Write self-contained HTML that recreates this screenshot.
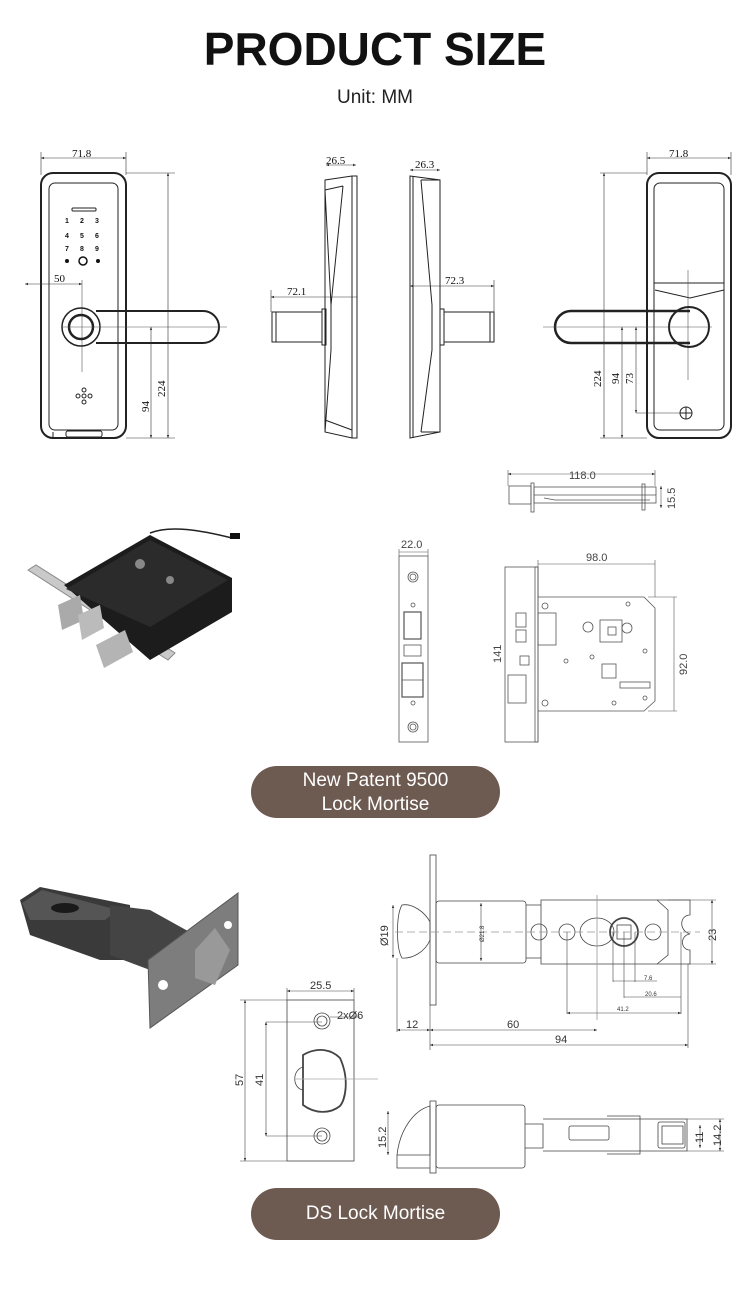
<!DOCTYPE html>
<html><head><meta charset="utf-8"><style>
html,body{margin:0;padding:0;background:#fff;}
body{width:750px;height:1300px;overflow:hidden;position:relative;font-family:"Liberation Sans",sans-serif;}
.t{position:absolute;left:0;width:750px;text-align:center;}
.btn{position:absolute;left:251px;width:249px;background:#6d5a51;border-radius:26px;color:#fff;text-align:center;font-size:19px;}
</style></head><body>
<div class="t" style="top:22px;font-size:46px;font-weight:bold;letter-spacing:0px;color:#111;">PRODUCT SIZE</div>
<div class="t" style="top:87px;font-size:19px;color:#222;">Unit: MM</div>
<svg width="750" height="1300" style="position:absolute;left:0;top:0" xmlns="http://www.w3.org/2000/svg" font-family="Liberation Serif, serif" font-size="10">
<defs>
<marker id="a" markerWidth="6" markerHeight="6" refX="5" refY="3" orient="auto-start-reverse"><path d="M0,1 L5,3 L0,5" fill="#333"/></marker>
</defs>
<g stroke="#222" fill="none" stroke-width="1">
<!-- front panel left -->
<rect x="41" y="173" width="85" height="265" rx="12" stroke-width="2"/>
<rect x="49" y="183" width="69" height="247" rx="6"/>
<rect x="72" y="208" width="24" height="3" rx="1"/>
<path d="M53,432 L53,438 M65,430 h40"/>
<rect x="66" y="431" width="36" height="6" rx="2"/>
<line x1="82" y1="280" x2="82" y2="372" stroke="#555" stroke-width=".6"/>
<circle cx="81" cy="327" r="19" stroke-width="1.5"/>
<circle cx="81" cy="327" r="12" stroke-width="2.5"/>
<path d="M96,311 H203 A16,16 0 0 1 203,343 H96" stroke-width="2"/>
<line x1="62" y1="327" x2="227" y2="327" stroke="#555" stroke-width=".6"/>
<circle cx="84" cy="396" r="2"/><circle cx="78" cy="396" r="2"/><circle cx="90" cy="396" r="2"/><circle cx="84" cy="390" r="2"/><circle cx="84" cy="402" r="2"/>
<g stroke-width=".6" stroke="#333">
<line x1="41" y1="158" x2="126" y2="158" marker-start="url(#a)" marker-end="url(#a)"/>
<line x1="41" y1="152" x2="41" y2="175"/><line x1="126" y1="152" x2="126" y2="175"/>
<line x1="126" y1="173" x2="175" y2="173"/><line x1="126" y1="438" x2="175" y2="438"/>
<line x1="168" y1="173" x2="168" y2="438" marker-start="url(#a)" marker-end="url(#a)"/>
<line x1="151" y1="327" x2="151" y2="438" marker-start="url(#a)" marker-end="url(#a)"/>
<line x1="25" y1="284" x2="82" y2="284" marker-start="url(#a)" marker-end="url(#a)"/>
</g>
<!-- side view 1 -->
<path d="M325,180 L352,176 L357,176 L357,438 L352,438 L325,432 Z"/>
<path d="M325,190 L343,186 M352,176 L352,438 M325,190 L331,305 L331,350 L325,432 M343,186 L331,305 M325,420 L352,430"/>
<rect x="322" y="309" width="4" height="36"/>
<rect x="272" y="312" width="50" height="30"/>
<line x1="276" y1="312" x2="276" y2="342"/>
<g stroke-width=".6" stroke="#333">
<line x1="326" y1="165" x2="356" y2="165" marker-start="url(#a)" marker-end="url(#a)"/>
<line x1="271" y1="297" x2="357" y2="297" marker-start="url(#a)"/>
<line x1="271" y1="290" x2="271" y2="312"/>
</g>
<!-- side view 2 -->
<path d="M410,176 L440,180 L440,432 L410,438 Z"/>
<path d="M413,176 V438 M421,180 L432,305 L432,350 L421,432 M421,180 H440 M421,432 H440"/>
<rect x="440" y="309" width="4" height="36"/>
<rect x="444" y="312" width="50" height="30"/>
<line x1="490" y1="312" x2="490" y2="342"/>
<g stroke-width=".6" stroke="#333">
<line x1="410" y1="170" x2="440" y2="170" marker-start="url(#a)" marker-end="url(#a)"/>
<line x1="410" y1="286" x2="494" y2="286" marker-start="url(#a)" marker-end="url(#a)"/>
<line x1="494" y1="280" x2="494" y2="312"/>
</g>
<!-- right panel -->
<rect x="647" y="173" width="84" height="265" rx="12" stroke-width="2"/>
<rect x="654" y="183" width="70" height="247" rx="6"/>
<path d="M654,283 H724 M655,290 L690,298 L724,290"/>
<line x1="688" y1="270" x2="688" y2="380" stroke="#555" stroke-width=".6"/>
<circle cx="689" cy="327" r="20" stroke-width="2"/>
<path d="M690,311 H571 A16,16 0 0 0 571,343 H690" stroke-width="2.5"/>
<line x1="543" y1="327" x2="712" y2="327" stroke="#555" stroke-width=".6"/>
<circle cx="686" cy="413" r="6"/><path d="M680,413 h12 M686,407 v12"/>
<g stroke-width=".6" stroke="#333">
<line x1="647" y1="158" x2="731" y2="158" marker-start="url(#a)" marker-end="url(#a)"/>
<line x1="731" y1="152" x2="731" y2="175"/><line x1="647" y1="152" x2="647" y2="175"/>
<line x1="600" y1="173" x2="647" y2="173"/><line x1="600" y1="438" x2="647" y2="438"/>
<line x1="604" y1="173" x2="604" y2="438" marker-start="url(#a)" marker-end="url(#a)"/>
<line x1="622" y1="327" x2="622" y2="438" marker-start="url(#a)" marker-end="url(#a)"/>
<line x1="636" y1="327" x2="636" y2="413" marker-start="url(#a)" marker-end="url(#a)"/>
<line x1="636" y1="413" x2="680" y2="413"/>
</g>
</g>
<g fill="#111" font-size="11">
<text x="72" y="157">71.8</text><text x="54" y="282">50</text>
<text x="326" y="164">26.5</text><text x="415" y="168">26.3</text>
<text x="287" y="295">72.1</text><text x="445" y="284">72.3</text>
<text x="669" y="157">71.8</text>
<text transform="translate(165,397) rotate(-90)">224</text>
<text transform="translate(149,412) rotate(-90)">94</text>
<text transform="translate(601,387) rotate(-90)">224</text>
<text transform="translate(619,384) rotate(-90)">94</text>
<text transform="translate(633,384) rotate(-90)">73</text>
</g>
<g fill="#111" font-family="Liberation Sans, sans-serif" font-size="7" font-weight="bold">
<text x="65" y="223">1</text><text x="80" y="223">2</text><text x="95" y="223">3</text>
<text x="65" y="238">4</text><text x="80" y="238">5</text><text x="95" y="238">6</text>
<text x="65" y="251">7</text><text x="80" y="251">8</text><text x="95" y="251">9</text>
</g>
<circle cx="67" cy="261" r="2" fill="#111"/><circle cx="98" cy="261" r="2" fill="#111"/><circle cx="83" cy="261" r="4" fill="none" stroke="#111" stroke-width="1.5"/>

<!-- mortise drawings -->
<g stroke="#555" fill="none" stroke-width=".8">
<rect x="509" y="486" width="22" height="18"/>
<rect x="531" y="483" width="3" height="29"/>
<rect x="534" y="487" width="122" height="16"/>
<path d="M534,495 H656 M544,498 L555,500 H650"/>
<rect x="642" y="484" width="3" height="26"/>
<g stroke-width=".6"><line x1="508" y1="474" x2="655" y2="474" marker-start="url(#a)" marker-end="url(#a)"/>
<line x1="508" y1="470" x2="508" y2="486"/><line x1="655" y1="470" x2="655" y2="486"/>
<line x1="661" y1="486" x2="661" y2="508" marker-start="url(#a)" marker-end="url(#a)"/></g>
<!-- faceplate -->
<rect x="399" y="556" width="29" height="186"/>
<circle cx="413" cy="577" r="5"/><circle cx="413" cy="577" r="3"/>
<circle cx="413" cy="727" r="5"/><circle cx="413" cy="727" r="3"/>
<circle cx="413" cy="605" r="2"/><circle cx="413" cy="703" r="2"/>
<rect x="404" y="612" width="17" height="27" stroke-width="1.2"/>
<rect x="404" y="645" width="17" height="11"/>
<rect x="402" y="663" width="21" height="34" stroke-width="1.2"/>
<path d="M402,680 h21"/>
<g stroke-width=".6"><line x1="399" y1="552" x2="428" y2="552"/><line x1="399" y1="549" x2="399" y2="556"/><line x1="428" y1="549" x2="428" y2="556"/></g>
<!-- body -->
<rect x="505" y="567" width="33" height="175"/>
<rect x="535" y="567" width="3" height="175"/>
<path d="M538,597 H644 L655,608 V701 L644,711 H538"/>
<rect x="516" y="613" width="10" height="14"/><rect x="516" y="630" width="10" height="12"/>
<rect x="538" y="613" width="18" height="32"/><rect x="520" y="656" width="9" height="9"/>
<rect x="508" y="675" width="18" height="28"/>
<rect x="600" y="620" width="22" height="22"/><rect x="608" y="627" width="8" height="8"/>
<rect x="602" y="664" width="14" height="14"/>
<circle cx="627" cy="628" r="5"/><circle cx="588" cy="627" r="5"/>
<circle cx="545" cy="606" r="3"/><circle cx="545" cy="703" r="3"/><circle cx="628" cy="604" r="2"/>
<circle cx="645" cy="651" r="2"/><circle cx="566" cy="661" r="2"/><circle cx="592" cy="657" r="2"/><circle cx="614" cy="703" r="2"/><circle cx="645" cy="698" r="2"/>
<rect x="620" y="682" width="30" height="6"/>
<g stroke-width=".6"><line x1="538" y1="564" x2="655" y2="564"/><line x1="538" y1="560" x2="538" y2="597"/><line x1="655" y1="560" x2="655" y2="597"/>
<line x1="648" y1="597" x2="677" y2="597"/><line x1="648" y1="711" x2="677" y2="711"/><line x1="674" y1="597" x2="674" y2="711"/></g>
</g>
<g fill="#444" font-family="Liberation Sans, sans-serif" font-size="11">
<text x="569" y="479">118.0</text><text transform="translate(675,509) rotate(-90)">15.5</text>
<text x="401" y="548">22.0</text><text x="586" y="561">98.0</text>
<text transform="translate(501,663) rotate(-90)">141</text>
<text transform="translate(687,675) rotate(-90)">92.0</text>
</g>

<!-- mortise photo -->
<polygon points="28,570 36,565 175,653 168,660" fill="#c9c9c9" stroke="#888"/>
<polygon points="64,585 150,535 232,578 232,612 150,660" fill="#1c1c1c"/>
<polygon points="66,589 150,540 228,580 150,627" fill="#2b2b2b"/>
<path d="M150,533 C170,525 200,530 232,538" stroke="#222" fill="none" stroke-width="1.5"/>
<rect x="230" y="533" width="10" height="6" fill="#111"/>
<circle cx="140" cy="564" r="5" fill="#888"/><circle cx="170" cy="580" r="4" fill="#888"/>
<polygon points="58,605 80,595 84,620 62,630" fill="#aaa"/>
<polygon points="78,615 100,605 104,628 82,640" fill="#bbb"/>
<polygon points="96,645 125,630 133,652 104,668" fill="#b4b4b4"/>

<!-- latch drawing -->
<g stroke="#444" fill="none" stroke-width=".8">
<rect x="430" y="855" width="6" height="150"/>
<path d="M402,905 C412,903 425,912 430,922 V940 C425,952 412,959 402,958 C396,948 396,915 402,905 Z"/>
<rect x="436" y="901" width="90" height="62" rx="3"/>
<path d="M526,905 H541 M526,958 H541"/>
<path d="M541,900 H657 L668,910 V955 L657,964 H541 Z"/>
<path d="M657,900 H690 V915 C680,915 678,930 690,934 C680,935 680,950 690,950 V964 H657"/>
<circle cx="539" cy="932" r="8"/><circle cx="567" cy="932" r="8"/><circle cx="653" cy="932" r="8"/>
<ellipse cx="597" cy="932" rx="17" ry="14"/><circle cx="624" cy="932" r="14" stroke-width="1.8"/>
<rect x="617" y="925" width="14" height="14"/>
<line x1="395" y1="932" x2="700" y2="932" stroke-dasharray="8,4" stroke="#999"/>
<line x1="597" y1="895" x2="597" y2="1020" stroke="#999"/>
<g stroke-width=".6">
<line x1="393" y1="905" x2="393" y2="958" marker-start="url(#a)" marker-end="url(#a)"/>
<line x1="481" y1="903" x2="481" y2="961" marker-start="url(#a)" marker-end="url(#a)"/>
<line x1="712" y1="900" x2="712" y2="964" marker-start="url(#a)" marker-end="url(#a)"/>
<line x1="668" y1="900" x2="716" y2="900"/><line x1="688" y1="964" x2="716" y2="964"/>
<line x1="397" y1="958" x2="397" y2="1032"/><line x1="430" y1="1005" x2="430" y2="1050"/>
<line x1="688" y1="964" x2="688" y2="1048"/>
<line x1="397" y1="1030" x2="430" y2="1030" marker-start="url(#a)" marker-end="url(#a)"/>
<line x1="430" y1="1030" x2="597" y2="1030" marker-start="url(#a)" marker-end="url(#a)"/>
<line x1="430" y1="1045" x2="688" y2="1045" marker-start="url(#a)" marker-end="url(#a)"/>
<line x1="567" y1="932" x2="567" y2="1014"/><line x1="681" y1="932" x2="681" y2="1014"/>
<line x1="567" y1="1013" x2="681" y2="1013" marker-start="url(#a)" marker-end="url(#a)"/>
<line x1="624" y1="932" x2="624" y2="998"/><line x1="613" y1="932" x2="613" y2="982"/><line x1="635" y1="932" x2="635" y2="982"/>
<line x1="624" y1="997" x2="681" y2="997"/><line x1="613" y1="981" x2="657" y2="981"/>
</g>
<!-- side latch -->
<rect x="430" y="1101" width="6" height="72"/>
<path d="M397,1155 C400,1128 415,1110 430,1106 V1155 Z"/>
<path d="M397,1155 V1168 H430"/>
<rect x="436" y="1105" width="89" height="63" rx="3"/>
<path d="M525,1124 H543 V1148 H525 M543,1119 H687 V1151 H543 M607,1116 H640 V1154 H607"/>
<rect x="569" y="1126" width="40" height="14" rx="2"/>
<rect x="658" y="1122" width="27" height="26" rx="2"/><rect x="662" y="1126" width="21" height="18"/>
<g stroke-width=".6">
<line x1="388" y1="1111" x2="388" y2="1155" marker-start="url(#a)" marker-end="url(#a)"/>
<line x1="700" y1="1125" x2="700" y2="1148" marker-start="url(#a)" marker-end="url(#a)"/>
<line x1="720" y1="1119" x2="720" y2="1151" marker-start="url(#a)" marker-end="url(#a)"/>
<line x1="687" y1="1119" x2="724" y2="1119"/><line x1="687" y1="1151" x2="724" y2="1151"/>
</g>
<!-- strike plate -->
<rect x="287" y="1000" width="67" height="161"/>
<circle cx="322" cy="1021" r="8"/><circle cx="322" cy="1021" r="5"/>
<circle cx="322" cy="1136" r="8"/><circle cx="322" cy="1136" r="5"/>
<path d="M303,1055 C318,1046 332,1050 340,1058 C350,1080 345,1100 340,1106 C330,1114 315,1114 303,1105 Z" stroke-width="1.8"/>
<path d="M303,1067 C292,1070 292,1088 303,1090" />
<line x1="294" y1="1079" x2="378" y2="1079" stroke="#aaa"/>
<g stroke-width=".6">
<line x1="287" y1="991" x2="354" y2="991" marker-start="url(#a)" marker-end="url(#a)"/>
<line x1="287" y1="988" x2="287" y2="1000"/><line x1="354" y1="988" x2="354" y2="1000"/>
<line x1="245" y1="1000" x2="245" y2="1161" marker-start="url(#a)" marker-end="url(#a)"/>
<line x1="240" y1="1000" x2="287" y2="1000"/><line x1="240" y1="1161" x2="287" y2="1161"/>
<line x1="266" y1="1022" x2="266" y2="1136" marker-start="url(#a)" marker-end="url(#a)"/>
<line x1="266" y1="1022" x2="322" y2="1022"/><line x1="266" y1="1136" x2="322" y2="1136"/>
<line x1="330" y1="1017" x2="360" y2="1017"/>
</g>
</g>
<g fill="#333" font-family="Liberation Sans, sans-serif" font-size="11">
<text transform="translate(388,946) rotate(-90)">Ø19</text>
<text transform="translate(484,942) rotate(-90)" font-size="6">Ø21.8</text>
<text transform="translate(716,941) rotate(-90)">23</text>
<text x="644" y="980" font-size="6">7.6</text><text x="645" y="996" font-size="6">20.6</text><text x="617" y="1011" font-size="6">41.2</text>
<text x="406" y="1028">12</text><text x="507" y="1028">60</text><text x="555" y="1043">94</text>
<text transform="translate(386,1148) rotate(-90)">15.2</text>
<text transform="translate(703,1143) rotate(-90)">11</text>
<text transform="translate(721,1146) rotate(-90)">14.2</text>
<text x="310" y="989">25.5</text><text x="337" y="1019">2xØ6</text>
<text transform="translate(243,1086) rotate(-90)">57</text>
<text transform="translate(263,1086) rotate(-90)">41</text>
</g>
<!-- latch photo -->
<polygon points="20,900 40,887 130,905 130,960 100,960 30,935" fill="#3a3a3a"/>
<polygon points="22,903 42,890 118,910 105,920 30,920" fill="#555"/>
<ellipse cx="65" cy="908" rx="14" ry="5" fill="#1a1a1a"/>
<polygon points="110,905 150,910 195,935 195,975 150,970 110,955" fill="#444"/>
<polygon points="148,960 238,893 238,965 150,1028" fill="#7d7d7d" stroke="#555"/>
<polygon points="195,950 215,928 230,950 215,985 195,978" fill="#999"/>
<circle cx="163" cy="985" r="5" fill="#fff"/><circle cx="228" cy="925" r="4" fill="#fff"/>
</svg>
<div class="btn" style="top:766px;height:52px;line-height:24px;padding-top:3px;box-sizing:border-box;">New Patent 9500<br>Lock Mortise</div>
<div class="btn" style="top:1188px;height:52px;line-height:52px;">DS Lock Mortise</div>
</body></html>
